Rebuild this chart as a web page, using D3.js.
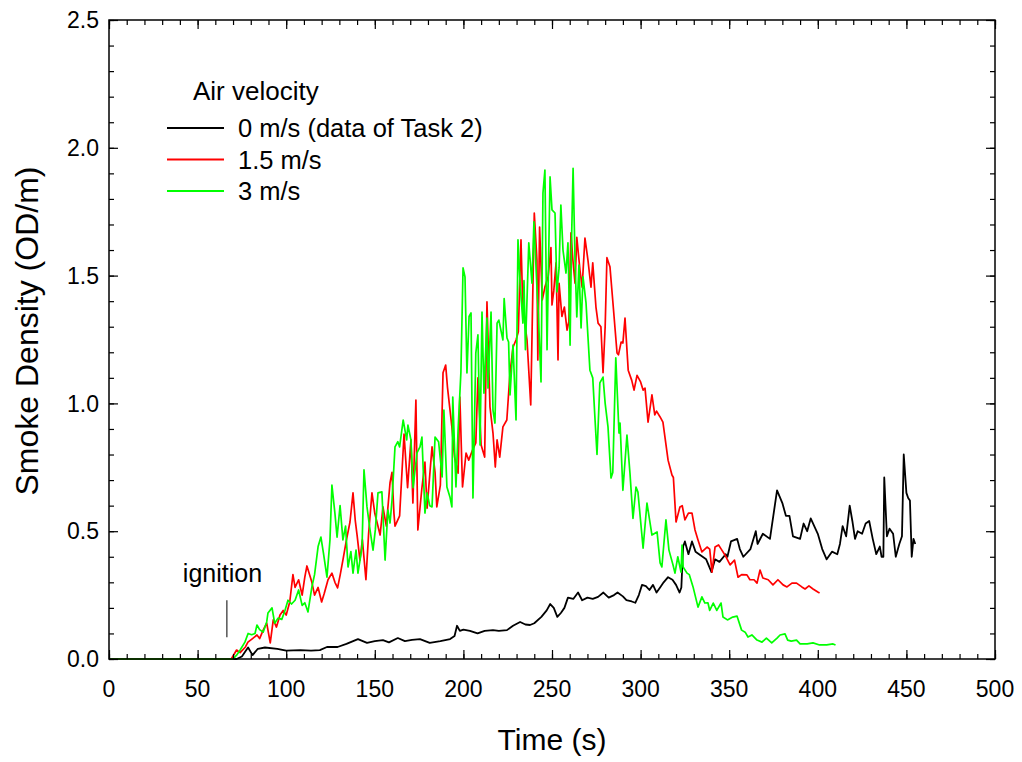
<!DOCTYPE html>
<html>
<head>
<meta charset="utf-8">
<script src="https://cdn.jsdelivr.net/npm/d3@7"></script>
<style>
  body { margin: 0; background: #fff; }
  svg { font-family: "Liberation Sans", Arial, sans-serif; }
</style>
</head>
<body>
<div id="chart"></div>
<script>
// Smoke density readings, [time (s), OD/m]
const black0 = [[0,0],[72,0],[75,0.01],[77,0.03],[78.5,0.045],[81,0.015],[84,0.04],[88,0.045],[95,0.04],[100,0.033],[108,0.035],[114,0.033],[119,0.035],[123,0.047],[129,0.047],[134,0.059],[140.5,0.078],[145.6,0.063],[150,0.07],[154.6,0.074],[158,0.065],[163,0.082],[167,0.07],[171,0.075],[175.5,0.078],[181,0.063],[187,0.07],[192.5,0.078],[195,0.09],[196.4,0.13],[198,0.11],[200,0.115],[203.7,0.11],[208,0.10],[212,0.11],[216.7,0.113],[220,0.11],[224.6,0.113],[228,0.13],[232,0.145],[235,0.135],[237.6,0.133],[240,0.14],[244,0.165],[247,0.19],[249,0.215],[251,0.2],[253,0.165],[255,0.18],[257,0.2],[259,0.24],[262,0.235],[264.7,0.26],[267,0.23],[270,0.24],[273,0.235],[276,0.243],[279,0.26],[282,0.24],[285,0.25],[287,0.26],[290,0.245],[292,0.23],[295,0.225],[297,0.22],[299,0.25],[300.8,0.29],[303,0.285],[305,0.27],[307,0.29],[309,0.26],[311,0.28],[313,0.3],[315.5,0.32],[318,0.31],[320,0.29],[322,0.26],[323,0.28],[324,0.44],[325,0.46],[327,0.41],[329,0.46],[331,0.42],[333,0.41],[337,0.39],[340,0.34],[342,0.39],[344.5,0.38],[348,0.41],[349,0.40],[351,0.46],[354.5,0.47],[356,0.43],[358,0.40],[362,0.43],[365,0.50],[366,0.45],[369,0.49],[373,0.47],[377,0.66],[380,0.61],[382,0.56],[384,0.56],[386,0.48],[390,0.47],[392,0.53],[394,0.50],[396,0.55],[400,0.49],[402.5,0.43],[405,0.39],[408,0.42],[411,0.41],[412.5,0.45],[414,0.52],[416,0.48],[418,0.60],[419.5,0.54],[421,0.47],[422.5,0.50],[425,0.49],[427,0.53],[429,0.54],[431,0.47],[433,0.41],[435,0.44],[436,0.40],[437,0.40],[437.5,0.71],[439,0.48],[440.5,0.51],[442.5,0.49],[444,0.40],[446,0.45],[447.5,0.48],[448.5,0.80],[450,0.65],[451,0.63],[452,0.62],[453,0.40],[454,0.47],[455,0.45]];

const red15 = [[0,0],[69,0],[72,0.035],[74,0.025],[77,0.047],[78.4,0.066],[81,0.08],[83.5,0.094],[85,0.08],[87,0.113],[89,0.14],[91,0.063],[92.7,0.153],[94.5,0.125],[96.5,0.172],[98.3,0.19],[100,0.172],[102,0.223],[103.8,0.33],[105,0.28],[107,0.31],[109,0.25],[110.5,0.32],[111.7,0.364],[114.5,0.30],[116,0.25],[118,0.28],[120,0.223],[121.5,0.257],[123.6,0.31],[125.8,0.336],[127.5,0.30],[129,0.278],[130.5,0.33],[132,0.387],[134,0.466],[136,0.536],[137.7,0.65],[139,0.54],[140,0.485],[141.6,0.387],[143,0.466],[145,0.31],[146.5,0.49],[148.4,0.65],[150,0.57],[153,0.485],[154.6,0.595],[156.5,0.52],[158.6,0.69],[159.7,0.73],[160.8,0.57],[161.4,0.52],[164,0.56],[166.5,0.88],[168.5,0.67],[170.4,0.857],[171.5,0.61],[173.2,1.013],[174.3,0.505],[176.6,0.67],[178.3,0.77],[179.5,0.59],[182.3,0.83],[184,0.73],[185,0.595],[187,0.68],[188.5,1.12],[190,1.15],[191,1.064],[193.5,0.908],[195,0.79],[197,0.727],[198,1.025],[199.5,0.673],[201.5,0.806],[203,0.778],[205,0.815],[207,0.845],[208.2,1.10],[210,0.837],[212,0.79],[213.3,1.397],[215,0.986],[216.7,0.884],[218,0.751],[219,0.857],[220.5,0.79],[222.3,0.908],[224.5,0.935],[226.3,1.119],[228,1.22],[229.7,1.248],[231,1.28],[232.5,1.64],[233.5,1.377],[235.9,1.248],[238,0.994],[240,1.745],[241.5,1.56],[242,1.17],[243,1.69],[244.5,1.405],[246,1.455],[247.8,1.495],[249.4,1.61],[250,1.385],[251,1.44],[252.3,1.55],[253.4,1.17],[254,1.47],[255.6,1.34],[257,1.377],[258.5,1.287],[259.5,1.32],[260.7,1.667],[261.8,1.56],[263,1.47],[264,1.65],[265.8,1.52],[267,1.455],[268.6,1.647],[270.3,1.56],[272,1.455],[273,1.55],[274.8,1.377],[276,1.314],[277.6,1.30],[278.8,1.12],[280,1.30],[281,1.57],[282.7,1.535],[284.4,1.393],[286.7,1.197],[287.5,1.19],[289,1.24],[290,1.236],[291.2,1.334],[293,1.13],[295,1.09],[296.3,1.052],[298,1.11],[300,1.084],[301.4,1.052],[302.5,1.06],[304.2,0.927],[306.4,1.033],[308,0.955],[309,0.97],[311,0.947],[312.6,0.927],[315.5,0.778],[317.7,0.72],[318.5,0.71],[320,0.536],[322.2,0.595],[323.5,0.60],[325,0.544],[327,0.571],[329,0.571],[330.7,0.505],[332.4,0.466],[334.6,0.419],[337.5,0.438],[339,0.43],[340.3,0.34],[342,0.438],[344,0.446],[345.5,0.43],[347.6,0.407],[350.5,0.368],[353,0.387],[355,0.32],[357,0.33],[360,0.329],[361.7,0.31],[364,0.31],[365.7,0.297],[367.4,0.348],[369,0.317],[372,0.31],[374.7,0.29],[377.5,0.31],[380.4,0.29],[382.6,0.282],[385.4,0.297],[388,0.297],[391,0.282],[392.8,0.274],[395,0.286],[397.3,0.274],[400,0.262],[401,0.258]];

const green3 = [[0,0],[70,0],[72,0.015],[74,0.035],[76.7,0.066],[78.5,0.1],[80.5,0.095],[82.4,0.1],[83.5,0.133],[85,0.115],[87,0.105],[89,0.145],[89.7,0.18],[92,0.2],[93.5,0.14],[95.4,0.16],[97.5,0.155],[99.3,0.19],[101,0.23],[103,0.215],[105,0.23],[107,0.27],[109,0.21],[110.5,0.22],[112.3,0.184],[114.5,0.282],[116,0.33],[118,0.44],[119.6,0.477],[121,0.415],[123,0.32],[124.7,0.466],[125.8,0.68],[127.5,0.57],[128.7,0.477],[130.4,0.60],[132,0.466],[133.5,0.52],[134.9,0.36],[136.5,0.42],[137.7,0.336],[139.4,0.426],[140.5,0.336],[142.8,0.438],[143.9,0.74],[145.6,0.595],[147.3,0.505],[149,0.426],[150.3,0.505],[151.8,0.65],[154,0.654],[155.8,0.387],[157.4,0.583],[158.6,0.532],[159.7,0.62],[161.4,0.83],[163,0.85],[164,0.83],[166,0.935],[168,0.857],[168.7,0.915],[170.4,0.857],[171.6,0.67],[173.8,0.806],[175.5,0.83],[176.6,0.868],[178.3,0.571],[179.5,0.65],[181,0.60],[182.3,0.595],[184,0.868],[186,0.85],[188,0.712],[189,0.974],[190.7,0.673],[192.4,0.634],[193.5,0.595],[194,1.025],[195.8,0.673],[197,0.896],[198.6,1.123],[199.8,1.53],[200.9,1.495],[202,1.119],[203.2,1.34],[204.3,1.354],[205.4,0.63],[207,1.197],[208.2,1.268],[209.4,0.837],[210.5,1.357],[211.6,1.04],[213.3,1.334],[213.9,1.06],[215.6,1.357],[216.7,0.974],[217.8,0.923],[219,1.314],[220,1.326],[222.3,1.248],[223,1.41],[224.6,1.256],[225.5,1.24],[226.3,1.033],[228,1.228],[229.7,0.935],[230.8,1.64],[232,1.47],[233.6,1.314],[234.2,1.48],[235,1.21],[236.9,1.628],[238.7,1.47],[239.8,1.71],[241.5,1.455],[242.3,1.35],[243.8,1.084],[244.9,1.823],[246,1.913],[247.2,1.21],[248,1.53],[248.9,1.886],[250,1.757],[251.7,1.745],[252.8,1.436],[254,1.53],[255,1.776],[256.2,1.6],[257.9,1.51],[259,1.628],[260.2,1.228],[261,1.63],[261.9,1.92],[263,1.56],[264,1.338],[265.2,1.541],[266.4,1.295],[267.5,1.495],[269.2,1.393],[270.3,1.26],[271.4,1.13],[273,1.10],[274.3,0.935],[275.4,0.80],[277,1.08],[278.8,1.103],[280,1.0],[281.6,0.908],[283.3,0.708],[284.3,0.73],[286,1.178],[287.8,0.884],[288.4,0.923],[290,0.66],[292.3,0.876],[294,0.727],[295.7,0.55],[297.4,0.673],[298.5,0.653],[301.4,0.434],[303.6,0.61],[306.4,0.485],[309.3,0.497],[311,0.376],[312,0.36],[314.3,0.544],[316,0.426],[318.3,0.368],[319.4,0.336],[321,0.40],[322.8,0.34],[323.4,0.446],[324,0.36],[326.2,0.336],[327.5,0.33],[329.6,0.282],[332.4,0.203],[334.6,0.243],[336.3,0.219],[338,0.22],[339,0.19],[341,0.219],[343,0.19],[345.4,0.219],[346.5,0.164],[349,0.153],[352,0.164],[354.4,0.168],[357,0.113],[359,0.105],[360.6,0.086],[362.8,0.094],[365.7,0.074],[368.5,0.066],[371,0.082],[374,0.063],[377,0.082],[378.7,0.094],[381.5,0.098],[383,0.074],[385,0.07],[388,0.074],[390,0.059],[394,0.059],[397.3,0.063],[401,0.055],[405,0.055],[408.6,0.059],[410,0.055]];

const seriesNames = ["0 m/s (data of Task 2)", "1.5 m/s", "3 m/s"];
const seriesColors = ["#000000", "#ff0000", "#00ff00"];
const xTicks = [0, 50, 100, 150, 200, 250, 300, 350, 400, 450, 500];
const yTicks = [0, 0.5, 1.0, 1.5, 2.0, 2.5];
const ignitionTime = 66.5;

const width = 1022, height = 762;
const margin = {top: 20, right: 27, bottom: 103, left: 109};
const w = width - margin.left - margin.right;
const h = height - margin.top - margin.bottom;

const svg = d3.select("#chart").append("svg")
    .attr("width", width)
    .attr("height", height);

const g = svg.append("g")
    .attr("transform", `translate(${margin.left},${margin.top})`);

const x = d3.scaleLinear().domain([0, 500]).range([0, w]);
const y = d3.scaleLinear().domain([0, 2.5]).range([h, 0]);

const line = d3.line()
    .x(d => x(d[0]))
    .y(d => y(d[1]));

// data lines
[black0, red15, green3].forEach((data, i) => {
    g.append("path")
        .datum(data)
        .attr("fill", "none")
        .attr("stroke", seriesColors[i])
        .attr("stroke-width", i === 0 ? 1.8 : 1.7)
        .attr("stroke-linejoin", "round")
        .attr("d", line);
});

// ticks on all four sides, pointing inward
const xMinor = d3.range(0, 501, 10);
const yMinor = d3.range(0, 2.51, 0.1);

function tickAxis(axisFn, scale, values, size, transform) {
    const a = g.append("g")
        .attr("transform", transform || null)
        .call(axisFn(scale).tickValues(values).tickSize(size).tickFormat(""));
    a.select(".domain").remove();
    a.selectAll("line").attr("stroke", "#000").attr("stroke-width", 1.2);
}
tickAxis(d3.axisBottom, x, xMinor, -5, `translate(0,${h})`);
tickAxis(d3.axisBottom, x, xTicks, -9, `translate(0,${h})`);
tickAxis(d3.axisTop, x, xMinor, -5);
tickAxis(d3.axisTop, x, xTicks, -9);
tickAxis(d3.axisLeft, y, yMinor, -5);
tickAxis(d3.axisLeft, y, yTicks, -9);
tickAxis(d3.axisRight, y, yMinor, -5, `translate(${w},0)`);
tickAxis(d3.axisRight, y, yTicks, -9, `translate(${w},0)`);

// frame
g.append("rect")
    .attr("width", w)
    .attr("height", h)
    .attr("fill", "none")
    .attr("stroke", "#000")
    .attr("stroke-width", 1.5);

// tick labels
g.selectAll(".xlab").data(xTicks).join("text")
    .attr("x", d => x(d))
    .attr("y", h + 38)
    .attr("text-anchor", "middle")
    .style("font-size", "23px")
    .text(d => d);

g.selectAll(".ylab").data(yTicks).join("text")
    .attr("x", -10)
    .attr("y", d => y(d))
    .attr("dy", "0.36em")
    .attr("text-anchor", "end")
    .style("font-size", "23px")
    .text(d => d.toFixed(1));

// axis titles
svg.append("text")
    .attr("x", margin.left + w / 2)
    .attr("y", 750)
    .attr("text-anchor", "middle")
    .style("font-size", "30px")
    .text("Time (s)");

svg.append("text")
    .attr("transform", "translate(38,331) rotate(-90)")
    .attr("text-anchor", "middle")
    .style("font-size", "32px")
    .text("Smoke Density (OD/m)");

// ignition marker
g.append("line")
    .attr("x1", x(ignitionTime)).attr("x2", x(ignitionTime))
    .attr("y1", y(0.23)).attr("y2", y(0.085))
    .attr("stroke", "#555")
    .attr("stroke-width", 1.5);
g.append("text")
    .attr("x", x(ignitionTime) - 44)
    .attr("y", y(0.30))
    .style("font-size", "25px")
    .text("ignition");

// legend
const legend = svg.append("g");
legend.append("text")
    .attr("x", 193)
    .attr("y", 100)
    .style("font-size", "26px")
    .text("Air velocity");
seriesNames.forEach((name, i) => {
    const ly = 128 + i * 31.5;
    legend.append("line")
        .attr("x1", 167).attr("x2", 224)
        .attr("y1", ly).attr("y2", ly)
        .attr("stroke", seriesColors[i])
        .attr("stroke-width", 1.8);
    legend.append("text")
        .attr("x", 238)
        .attr("y", ly + 9)
        .style("font-size", "25.5px")
        .text(name);
});
</script>
</body>
</html>
